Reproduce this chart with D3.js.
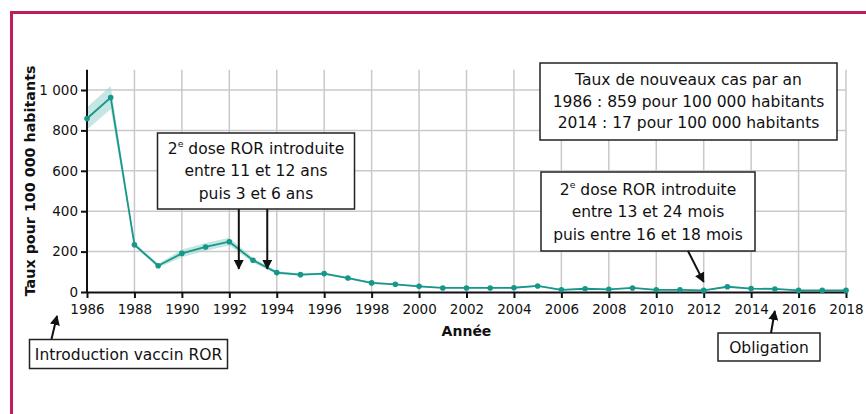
<!DOCTYPE html>
<html>
<head>
<meta charset="utf-8">
<script src="https://cdn.jsdelivr.net/npm/d3@7"></script>
<style>
  body { margin: 0; background: #fff; }
  svg { display: block; font-family: "DejaVu Sans", sans-serif; }
</style>
</head>
<body>
<div id="chart"></div>
<script>
// Data: measles rate per 100 000 inhabitants, by year
var years = d3.range(1986, 2019);
var rate  = [859, 963, 234, 130, 191, 223, 249, 157, 96, 86, 91, 69, 45, 38, 28, 20, 20, 20, 21, 30, 11, 16, 13, 20, 11, 11, 8, 26, 17, 15, 8, 8, 8];
var lower = [805, 905, 224, 120, 172, 204, 230, 145, 88, 80, 85, 64, 40, 34, 24, 17, 17, 17, 18, 26, 8, 13, 10, 17, 8, 8, 6, 22, 14, 12, 6, 6, 6];
var upper = [915, 1020, 244, 140, 210, 242, 268, 169, 104, 92, 97, 74, 50, 42, 32, 23, 23, 23, 24, 34, 14, 19, 16, 23, 14, 14, 10, 30, 20, 18, 10, 10, 10];
var xTicks = d3.range(1986, 2019, 2);
var yTicks = [0, 200, 400, 600, 800, 1000];

var W = 866, H = 414;
var teal = "#16978a";

var svg = d3.select("#chart").append("svg")
  .attr("width", W).attr("height", H);

// defs: arrowhead
svg.append("defs").append("marker")
  .attr("id", "arrow")
  .attr("viewBox", "0 0 10 10")
  .attr("refX", 9).attr("refY", 5)
  .attr("markerWidth", 5).attr("markerHeight", 5)
  .attr("markerUnits", "strokeWidth")
  .attr("orient", "auto")
  .append("path").attr("d", "M0,0L10,5L0,10z").attr("fill", "#111");

// magenta frame (right and bottom edges fall outside the picture)
svg.append("rect")
  .attr("x", 11.5).attr("y", 12.5)
  .attr("width", 880).attr("height", 440)
  .attr("fill", "none").attr("stroke", "#c01c5e").attr("stroke-width", 3);

var x = d3.scaleLinear().domain([1986, 2018]).range([87, 846]);
var y = d3.scaleLinear().domain([0, 1000]).range([292, 90]);
var yTop = y(1100);

var data = years.map(function(d, i) { return {year: d, v: rate[i], lo: lower[i], hi: upper[i]}; });

// grid
var grid = svg.append("g").attr("stroke", "#c9c9c9").attr("stroke-width", 1.5);
grid.selectAll(".vg").data(xTicks.slice(1)).enter().append("line")
  .attr("x1", function(d) { return x(d); }).attr("x2", function(d) { return x(d); })
  .attr("y1", yTop).attr("y2", y(0));
grid.selectAll(".hg").data(yTicks.slice(1)).enter().append("line")
  .attr("x1", x(1986)).attr("x2", x(2018))
  .attr("y1", function(d) { return y(d); }).attr("y2", function(d) { return y(d); });

// confidence band
svg.append("path").datum(data)
  .attr("fill", "#9fd6cf").attr("fill-opacity", 0.6)
  .attr("d", d3.area()
    .x(function(d) { return x(d.year); })
    .y0(function(d) { return y(d.lo); })
    .y1(function(d) { return y(d.hi); }));

// line
svg.append("path").datum(data)
  .attr("fill", "none").attr("stroke", teal).attr("stroke-width", 1.8)
  .attr("d", d3.line().x(function(d) { return x(d.year); }).y(function(d) { return y(d.v); }));

// axes
var xAxis = svg.append("g")
  .attr("transform", "translate(0," + y(0) + ")")
  .call(d3.axisBottom(x).tickValues(xTicks).tickFormat(d3.format("d")).tickSize(6).tickPadding(6).tickSizeOuter(0));
var yAxis = svg.append("g")
  .attr("transform", "translate(" + x(1986) + ",0)")
  .call(d3.axisLeft(y).tickValues(yTicks).tickFormat(function(d) { return d >= 1000 ? "1 000" : d; }).tickSize(6).tickPadding(3).tickSizeOuter(0));
yAxis.select(".domain").attr("d", "M0," + yTop + "V" + y(0));
[xAxis, yAxis].forEach(function(a) {
  a.select(".domain").attr("stroke", "#111").attr("stroke-width", 2);
  a.selectAll(".tick line").attr("stroke", "#111").attr("stroke-width", 2);
  a.selectAll("text").attr("font-size", 13.5).attr("fill", "#111").attr("font-family", "DejaVu Sans, sans-serif");
});

// points
svg.selectAll(".pt").data(data).enter().append("circle")
  .attr("cx", function(d) { return x(d.year); })
  .attr("cy", function(d) { return y(d.v); })
  .attr("r", 2.8).attr("fill", teal);

// axis titles
svg.append("text")
  .attr("x", (x(1986) + x(2018)) / 2).attr("y", 336)
  .attr("text-anchor", "middle").attr("font-size", 14).attr("font-weight", "bold").attr("fill", "#111")
  .text("Année");
svg.append("text")
  .attr("transform", "translate(35," + ((yTop + y(0)) / 2) + ") rotate(-90)")
  .attr("text-anchor", "middle").attr("font-size", 14.3).attr("font-weight", "bold").attr("fill", "#111")
  .text("Taux pour 100 000 habitants");

// annotation boxes
function box(x0, y0, w, h, lines, firstY, step, fs) {
  var g = svg.append("g");
  g.append("rect").attr("x", x0).attr("y", y0).attr("width", w).attr("height", h)
    .attr("fill", "#fff").attr("stroke", "#222").attr("stroke-width", 1.5);
  lines.forEach(function(l, i) {
    var t = g.append("text")
      .attr("x", x0 + w / 2).attr("y", firstY + i * step)
      .attr("text-anchor", "middle").attr("dominant-baseline", "middle")
      .attr("font-size", fs).attr("fill", "#111");
    if (Array.isArray(l)) {
      t.append("tspan").text(l[0]);
      t.append("tspan").attr("font-size", fs * 0.6).attr("dy", -5).text(l[1]);
      t.append("tspan").attr("dy", 5).text(l[2]);
    } else {
      t.text(l);
    }
  });
}
function arrow(x1, y1, x2, y2) {
  svg.append("line").attr("x1", x1).attr("y1", y1).attr("x2", x2).attr("y2", y2)
    .attr("stroke", "#111").attr("stroke-width", 2).attr("marker-end", "url(#arrow)");
}

var fs = 15.5;
box(157.5, 133, 197, 76, [["2", "e", " dose ROR introduite"], "entre 11 et 12 ans", "puis 3 et 6 ans"], 149, 22.5, fs);
arrow(x(1992.4), 209, x(1992.4), y(115));
arrow(x(1993.6), 209, x(1993.6), y(115));

box(540, 63, 297, 77, ["Taux de nouveaux cas par an", "1986 : 859 pour 100 000 habitants", "2014 : 17 pour 100 000 habitants"], 80.5, 21.5, fs);

box(541, 172, 214, 79, [["2", "e", " dose ROR introduite"], "entre 13 et 24 mois", "puis entre 16 et 18 mois"], 190, 22.5, fs);
arrow(688, 251, x(2012), y(50));

box(29.5, 339.5, 198, 29, ["Introduction vaccin ROR"], 355, 0, fs);
arrow(51.5, 339, 57, 316);

box(718, 333, 102, 28, ["Obligation"], 348, 0, fs);
arrow(771, 333, x(2015), 311);
</script>
</body>
</html>
